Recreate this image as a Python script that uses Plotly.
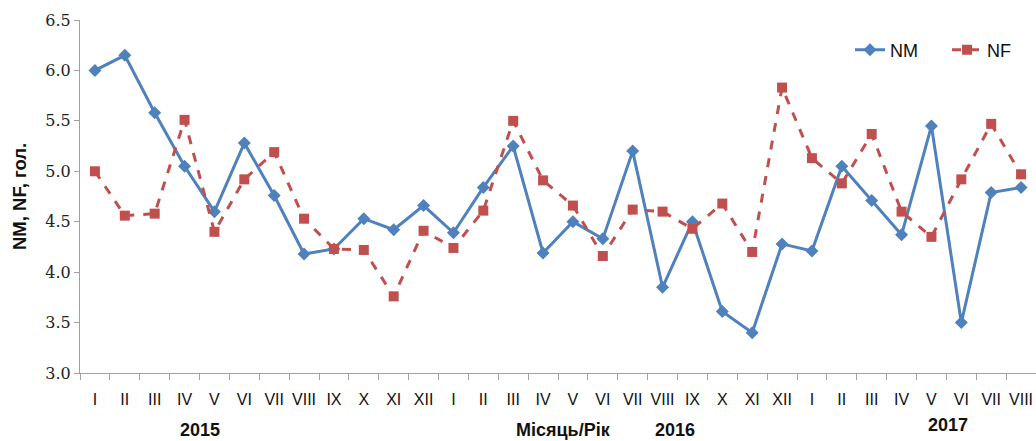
import plotly.graph_objects as go

months = ["I","II","III","IV","V","VI","VII","VIII","IX","X","XI","XII",
          "I","II","III","IV","V","VI","VII","VIII","IX","X","XI","XII",
          "I","II","III","IV","V","VI","VII","VIII"]
nm = [6.00, 6.15, 5.58, 5.05, 4.60, 5.28, 4.76, 4.18, 4.23, 4.53, 4.42, 4.66,
      4.39, 4.84, 5.25, 4.19, 4.50, 4.33, 5.20, 3.85, 4.50, 3.61, 3.40, 4.28,
      4.21, 5.05, 4.71, 4.37, 5.45, 3.50, 4.79, 4.84]
nf = [5.00, 4.56, 4.58, 5.51, 4.40, 4.92, 5.19, 4.53, 4.23, 4.22, 3.76, 4.41,
      4.24, 4.61, 5.50, 4.91, 4.66, 4.16, 4.62, 4.60, 4.43, 4.68, 4.20, 5.83,
      5.13, 4.88, 5.37, 4.60, 4.35, 4.92, 5.47, 4.97]
years = ["2015", "2016", "2017"]
y_ticks = [3.0, 3.5, 4.0, 4.5, 5.0, 5.5, 6.0, 6.5]

x = list(range(len(months)))
sans = "Liberation Sans, Arial"
serif = "DejaVu Serif, serif"

fig = go.Figure()
fig.add_trace(go.Scatter(
    x=x, y=nm, name="NM", mode="lines+markers",
    line=dict(color="#4F81BD", width=3),
    marker=dict(symbol="diamond", size=10, color="#4F81BD"),
))
fig.add_trace(go.Scatter(
    x=x, y=nf, name="NF", mode="lines+markers",
    line=dict(color="#C0504D", width=3, dash="dash"),
    marker=dict(symbol="square", size=10, color="#C0504D"),
))

W, H = 1036, 441
plot_l, plot_r, plot_t, plot_b = 80, 1036, 20, 373

fig.update_layout(
    width=W, height=H,
    margin=dict(l=plot_l, r=W - plot_r, t=plot_t, b=H - plot_b, autoexpand=False),
    paper_bgcolor="white", plot_bgcolor="white",
    font=dict(family=sans, size=16, color="#111"),
    showlegend=True,
    legend=dict(orientation="h", x=(850 - 80) / (1036 - 80), y=(373 - 50) / 353,
                xanchor="left", yanchor="middle", entrywidth=52, entrywidthmode="pixels",
                bgcolor="rgba(0,0,0,0)", font=dict(size=18, color="#111", family=sans)),
    xaxis=dict(
        range=[-0.5, len(months) - 0.5],
        tickmode="array", tickvals=x, ticktext=months,
        ticks="", showgrid=False, zeroline=False, automargin=False,
        showline=True, linecolor="#A0A0A0", linewidth=1,
        tickfont=dict(size=16, color="#111", family=sans),
        ticklabelstandoff=12, ticklabeloverflow="allow",
        minor=dict(tickmode="linear", tick0=-0.5, dtick=1, ticks="outside",
                   ticklen=6, tickcolor="#A0A0A0", showgrid=False),
    ),
    yaxis=dict(
        range=[3.0, 6.5], tickmode="array", tickvals=y_ticks,
        ticktext=[f"{v:.1f}" for v in y_ticks],
        ticks="outside", ticklen=5, tickcolor="#A0A0A0",
        showgrid=False, zeroline=False, automargin=False,
        showline=True, linecolor="#A0A0A0", linewidth=1,
        tickfont=dict(size=16, color="#222", family=serif),
    ),
)

def px_to_paper(sx, sy):
    return (sx - plot_l) / (plot_r - plot_l), (plot_b - sy) / (plot_b - plot_t)

labels = [(200, 430, years[0]), (675, 430, years[1]), (948, 425, years[2]),
          (563, 430, "Місяць/Рік")]
for px, py, t in labels:
    ax, ay = px_to_paper(px, py)
    fig.add_annotation(text=f"<b>{t}</b>", x=ax, y=ay,
                       xref="paper", yref="paper", showarrow=False,
                       font=dict(size=18, color="#111", family=sans),
                       xanchor="center", yanchor="middle")

ax, ay = px_to_paper(19, 197)
fig.add_annotation(text="<b>NM, NF, гол.</b>", x=ax, y=ay, xref="paper", yref="paper",
                   showarrow=False, textangle=-90,
                   font=dict(size=18.5, color="#111", family=sans),
                   xanchor="center", yanchor="middle")

fig.write_html(
    "out.html",
    config={"displayModeBar": False},
    post_script="document.body.style.margin='0';document.body.style.overflow='hidden';",
)
